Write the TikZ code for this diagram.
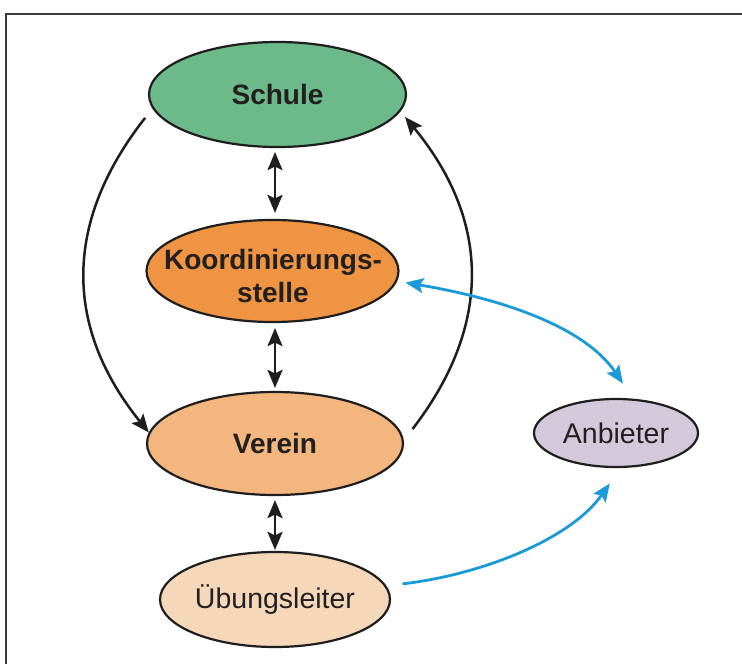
\documentclass[tikz,border=0pt]{standalone}
\usepackage{fontspec}
\setmainfont{Liberation Sans}
\usetikzlibrary{calc,arrows.meta,shapes.geometric}
\definecolor{schulec}{HTML}{6CBA8A}
\definecolor{koordc}{HTML}{EF9443}
\definecolor{vereinc}{HTML}{F2B67E}
\definecolor{uebc}{HTML}{F5D7BA}
\definecolor{anbc}{HTML}{D3C9DB}
\definecolor{bluec}{HTML}{1B9AD8}
\definecolor{linec}{HTML}{1E1E1E}
\definecolor{textc}{HTML}{231F20}
\definecolor{framec}{HTML}{3A3A3A}
\begin{document}
\begin{tikzpicture}[x=1pt,y=-1pt,
  ell/.style={ellipse, draw=linec, line width=2.2pt, inner sep=0pt, text=textc},
  bigtxt/.style={font=\fontsize{28}{33}\selectfont\bfseries, text=textc},
  regtxt/.style={font=\fontsize{28.5}{33}\selectfont, text=textc},
  conn/.style={line width=2.5pt, draw=linec},
  bconn/.style={line width=2.8pt, draw=bluec},
  >={Stealth[length=18pt,width=15pt,inset=3.5pt]}
]
\clip (0,0) rectangle (742,664);
\fill[white] (0,0) rectangle (742,664);
\draw[line width=2.8pt, draw=framec] (6,14) rectangle (790,700);

\node[ell, fill=schulec, minimum width=257pt, minimum height=105pt, bigtxt] (S) at (277.5,94.5) {Schule};
\node[ell, fill=koordc, minimum width=252pt, minimum height=102pt] (K) at (272.5,271) {};
\node[bigtxt, align=center] (Kt) at (273,276) {Koordinierungs-\\stelle};
\node[ell, fill=vereinc, minimum width=256pt, minimum height=103pt, bigtxt] (V) at (275,443.5) {Verein};
\node[ell, fill=uebc, minimum width=230pt, minimum height=95pt, regtxt] (U) at (275,599.5) {Übungsleiter};
\node[ell, fill=anbc, minimum width=164pt, minimum height=68pt, regtxt] (A) at (616,433) {Anbieter};

% vertical double arrows
\draw[conn, <->, shorten <=4pt, shorten >=6pt] (S.south -| V.center) -- (K.north -| V.center);
\draw[conn, <->, shorten <=5pt, shorten >=3pt] (K.south -| V.center) -- (V.north -| V.center);
\draw[conn, <->, shorten <=4pt, shorten >=1pt] (V.south -| V.center) -- (U.north -| V.center);

% black side curves
\draw[conn, ->] ($(S)!1.11!(S.190)$) .. controls (62.5,223) and (64.5,328) .. (V.175);
\draw[conn, ->] ($(V)!1.1!(V.6)$) .. controls (490.5,328) and (492.5,223) .. ($(S)!1.07!(S.350)$);

% blue curves
\draw[bconn, <->] ($(K)!1.07!(K.355)$) .. controls (480,295) and (580,320) .. ($(A)!1.41!(A.82)$);
\draw[bconn, ->] ($(U)!1.145!(U.7)$) .. controls (480,575) and (570,540) .. ($(A)!1.44!(A.263)$);
\end{tikzpicture}
\end{document}
